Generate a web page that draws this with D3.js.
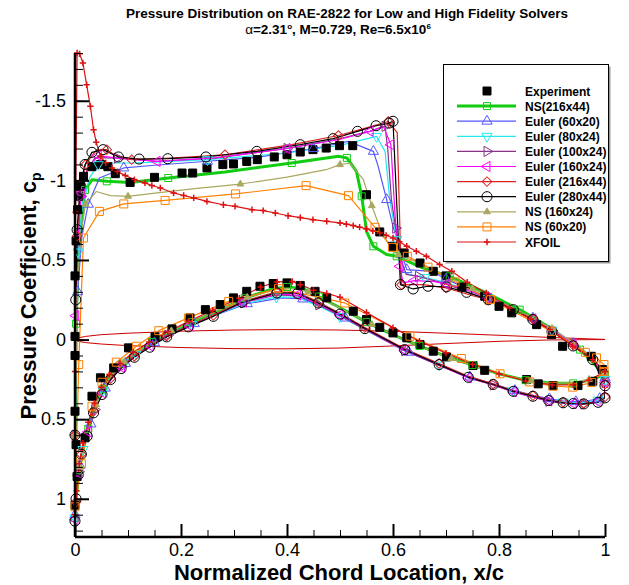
<!DOCTYPE html>
<html>
<head>
<meta charset="utf-8">
<script src="https://cdn.jsdelivr.net/npm/d3@7"></script>
<style>
  body { margin: 0; background: #fff; }
  svg { display: block; font-family: "Liberation Sans", Arial, sans-serif; }
</style>
</head>
<body>
<svg id="chart" width="629" height="585"></svg>
<script>
// tick labels
const xTicks = [0, 0.2, 0.4, 0.6, 0.8, 1];
const yTicks = [-1.5, -1, -0.5, 0, 0.5, 1];

// experiment (upper, lower surface) [x/c, cp]
const expUpper = [[0.995,0.188],[0.974,0.105],[0.92,0.042],[0.899,-0.031],[0.871,-0.094],[0.824,-0.168],[0.8,-0.209],[0.773,-0.272],[0.73,-0.33],[0.7,-0.4],[0.676,-0.429],[0.651,-0.481],[0.621,-0.544],[0.599,-0.586],[0.575,-0.676],[0.55,-0.91],[0.524,-1.218],[0.499,-1.218],[0.474,-1.203],[0.449,-1.193],[0.425,-1.178],[0.4,-1.161],[0.376,-1.147],[0.344,-1.13],[0.324,-1.119],[0.299,-1.103],[0.279,-1.099],[0.249,-1.078],[0.222,-1.046],[0.202,-1.046],[0.15,-1.019],[0.104,-0.987],[0.076,-1.042],[0.062,-1.086],[0.048,-1.099],[0.032,-1.086],[0.016,-1.025],[0.01,-0.962],[0.007,-0.9],[0.005,-0.816],[0.002,-0.62],[0,-0.4],[0,-0.02]];
const expLower = [[0,0.1],[0,0.45],[0.002,0.66],[0.004,0.86],[0,1.04],[0.019,0.617],[0.032,0.356],[0.048,0.24],[0.073,0.178],[0.101,0.052],[0.151,-0.017],[0.183,-0.067],[0.217,-0.136],[0.246,-0.188],[0.274,-0.22],[0.299,-0.262],[0.324,-0.303],[0.349,-0.335],[0.374,-0.352],[0.4,-0.356],[0.425,-0.34],[0.453,-0.303],[0.475,-0.262],[0.525,-0.178],[0.55,-0.126],[0.575,-0.077],[0.6,-0.042],[0.626,-0.011],[0.651,0.031],[0.676,0.073],[0.701,0.109],[0.751,0.163],[0.773,0.193],[0.852,0.251],[0.874,0.278],[0.902,0.289],[0.949,0.289],[0.977,0.262]];

// solver results, loop: upper TE -> LE -> lower TE
const ns216 = [[1,0.22],[0.99,0.188],[0.953,0.063],[0.896,-0.075],[0.839,-0.188],[0.776,-0.293],[0.707,-0.397],[0.656,-0.45],[0.607,-0.523],[0.588,-0.534],[0.563,-0.586],[0.55,-0.68],[0.541,-0.9],[0.531,-1.057],[0.513,-1.141],[0.497,-1.151],[0.409,-1.109],[0.283,-1.053],[0.176,-1.015],[0.104,-0.987],[0.06,-0.994],[0.032,-1.004],[0.019,-0.94],[0.007,-0.565],[0.002,-0.1],[0,0.6],[0,1.12],
  [0.002,1],[0.008,0.82],[0.016,0.68],[0.025,0.56],[0.038,0.42],[0.053,0.31],[0.07,0.22],[0.09,0.15],[0.115,0.08],[0.145,0.015],[0.178,-0.045],[0.22,-0.11],[0.27,-0.18],[0.32,-0.26],[0.374,-0.32],[0.4,-0.33],[0.43,-0.32],[0.46,-0.27],[0.5,-0.2],[0.55,-0.11],[0.6,-0.03],[0.65,0.04],[0.7,0.105],[0.75,0.16],[0.8,0.215],[0.85,0.255],[0.9,0.275],[0.94,0.275],[0.97,0.255],[1,0.22]];
const eul60 = [[1,0.24],[0.977,0.11],[0.94,0.025],[0.9,-0.065],[0.864,-0.135],[0.827,-0.2],[0.78,-0.265],[0.74,-0.32],[0.7,-0.38],[0.673,-0.429],[0.626,-0.439],[0.6,-0.711],[0.588,-0.879],[0.572,-1.088],[0.563,-1.182],[0.516,-1.245],[0.45,-1.2],[0.349,-1.147],[0.25,-1.12],[0.15,-1.095],[0.092,-1.078],[0.046,-1.015],[0.025,-0.85],[0.013,-0.65],[0.005,-0.3],[0,0.6],[0,1.1],
  [0.003,0.95],[0.009,0.79],[0.018,0.66],[0.03,0.53],[0.042,0.41],[0.057,0.305],[0.075,0.22],[0.095,0.15],[0.12,0.085],[0.15,0.02],[0.185,-0.04],[0.225,-0.1],[0.27,-0.16],[0.325,-0.225],[0.39,-0.262],[0.43,-0.255],[0.47,-0.2],[0.51,-0.135],[0.56,-0.05],[0.63,0.08],[0.69,0.165],[0.745,0.235],[0.79,0.28],[0.83,0.32],[0.865,0.35],[0.895,0.372],[0.92,0.385],[0.945,0.39],[0.965,0.386],[0.99,0.37],[1,0.33]];
const eul80 = [[1,0.25],[0.977,0.11],[0.94,0.03],[0.9,-0.06],[0.864,-0.13],[0.827,-0.195],[0.78,-0.26],[0.74,-0.31],[0.7,-0.36],[0.66,-0.39],[0.63,-0.41],[0.613,-0.44],[0.607,-0.628],[0.594,-0.879],[0.585,-1.182],[0.569,-1.276],[0.5,-1.22],[0.4,-1.172],[0.25,-1.13],[0.12,-1.11],[0.067,-1.109],[0.044,-1.099],[0.028,-1.02],[0.014,-0.85],[0.006,-0.55],[0.002,-0.15],[0,0.6],[0,1.12],
  [0.002,0.98],[0.007,0.82],[0.015,0.69],[0.026,0.565],[0.038,0.43],[0.053,0.32],[0.07,0.23],[0.09,0.16],[0.115,0.09],[0.145,0.025],[0.178,-0.035],[0.22,-0.095],[0.265,-0.155],[0.32,-0.225],[0.38,-0.268],[0.42,-0.265],[0.46,-0.21],[0.5,-0.145],[0.55,-0.058],[0.622,0.072],[0.687,0.16],[0.742,0.235],[0.789,0.28],[0.827,0.322],[0.864,0.354],[0.894,0.38],[0.921,0.392],[0.94,0.396],[0.96,0.396],[0.987,0.38],[1,0.34]];
const eul100 = [[1,0.27],[0.977,0.12],[0.94,0.035],[0.9,-0.055],[0.864,-0.125],[0.827,-0.19],[0.78,-0.255],[0.74,-0.3],[0.7,-0.35],[0.648,-0.397],[0.625,-0.41],[0.615,-0.5],[0.605,-0.7],[0.597,-0.879],[0.59,-1.2],[0.585,-1.339],[0.557,-1.31],[0.497,-1.26],[0.4,-1.2],[0.263,-1.14],[0.155,-1.12],[0.08,-1.14],[0.038,-1.143],[0.022,-1.06],[0.011,-0.9],[0.005,-0.6],[0.0015,-0.15],[0,0.6],[0,1.13],
  [0.002,0.99],[0.007,0.83],[0.014,0.7],[0.025,0.575],[0.037,0.44],[0.052,0.33],[0.068,0.24],[0.088,0.17],[0.113,0.1],[0.142,0.035],[0.175,-0.028],[0.216,-0.09],[0.263,-0.155],[0.318,-0.232],[0.38,-0.28],[0.42,-0.275],[0.46,-0.218],[0.5,-0.15],[0.548,-0.062],[0.622,0.07],[0.687,0.162],[0.742,0.24],[0.789,0.285],[0.827,0.33],[0.864,0.362],[0.894,0.388],[0.921,0.4],[0.94,0.405],[0.96,0.405],[0.987,0.39],[1,0.36]];
const eul160 = [[1,0.27],[0.977,0.115],[0.94,0.03],[0.9,-0.06],[0.864,-0.13],[0.827,-0.195],[0.78,-0.26],[0.739,-0.314],[0.7,-0.35],[0.676,-0.366],[0.64,-0.37],[0.619,-0.356],[0.613,-0.46],[0.604,-0.774],[0.596,-1.224],[0.582,-1.339],[0.557,-1.308],[0.497,-1.255],[0.4,-1.2],[0.263,-1.141],[0.155,-1.119],[0.076,-1.141],[0.044,-1.155],[0.025,-1.08],[0.012,-0.92],[0.005,-0.6],[0.0015,-0.15],[0,0.6],[0,1.13],
  [0.002,1],[0.007,0.84],[0.014,0.7],[0.025,0.58],[0.037,0.44],[0.052,0.335],[0.068,0.245],[0.088,0.175],[0.113,0.105],[0.142,0.04],[0.175,-0.025],[0.216,-0.088],[0.263,-0.155],[0.318,-0.235],[0.38,-0.285],[0.42,-0.28],[0.46,-0.222],[0.5,-0.155],[0.548,-0.065],[0.622,0.068],[0.687,0.16],[0.742,0.24],[0.789,0.285],[0.827,0.328],[0.864,0.36],[0.894,0.385],[0.921,0.398],[0.94,0.402],[0.96,0.402],[0.987,0.39],[1,0.36]];
const eul216 = [[1,0.28],[0.977,0.12],[0.94,0.035],[0.9,-0.055],[0.864,-0.13],[0.827,-0.19],[0.78,-0.25],[0.754,-0.272],[0.7,-0.325],[0.657,-0.345],[0.616,-0.345],[0.608,-1.3],[0.591,-1.37],[0.553,-1.333],[0.497,-1.282],[0.409,-1.224],[0.283,-1.161],[0.18,-1.14],[0.107,-1.13],[0.075,-1.16],[0.06,-1.193],[0.04,-1.19],[0.02,-1.1],[0.01,-0.95],[0.004,-0.65],[0.0015,-0.2],[0,0.6],[0,1.14],
  [0.002,1.02],[0.006,0.86],[0.012,0.72],[0.022,0.6],[0.035,0.45],[0.05,0.34],[0.067,0.245],[0.087,0.175],[0.112,0.105],[0.14,0.042],[0.173,-0.022],[0.214,-0.085],[0.261,-0.152],[0.315,-0.238],[0.38,-0.3],[0.42,-0.295],[0.46,-0.235],[0.5,-0.165],[0.547,-0.075],[0.622,0.058],[0.687,0.15],[0.742,0.23],[0.789,0.278],[0.827,0.32],[0.864,0.352],[0.894,0.378],[0.921,0.394],[0.94,0.4],[0.96,0.402],[0.987,0.39],[1,0.36]];
const eul280 = [[1,0.29],[0.977,0.126],[0.94,0.04],[0.9,-0.05],[0.864,-0.126],[0.827,-0.188],[0.78,-0.25],[0.739,-0.297],[0.701,-0.331],[0.666,-0.335],[0.638,-0.318],[0.614,-0.345],[0.6,-1.371],[0.593,-1.36],[0.568,-1.343],[0.533,-1.308],[0.487,-1.262],[0.425,-1.224],[0.343,-1.182],[0.247,-1.147],[0.175,-1.136],[0.121,-1.134],[0.082,-1.147],[0.053,-1.193],[0.032,-1.176],[0.019,-1.1],[0.01,-0.97],[0.004,-0.69],[0.0015,-0.25],[0,0.6],[0,1.14],
  [0.002,1],[0.006,0.85],[0.012,0.72],[0.023,0.606],[0.035,0.46],[0.051,0.345],[0.067,0.251],[0.087,0.182],[0.112,0.111],[0.141,0.048],[0.173,-0.017],[0.214,-0.08],[0.261,-0.146],[0.315,-0.234],[0.381,-0.293],[0.42,-0.29],[0.459,-0.23],[0.5,-0.16],[0.547,-0.069],[0.622,0.063],[0.687,0.157],[0.742,0.237],[0.789,0.282],[0.827,0.325],[0.864,0.356],[0.894,0.383],[0.921,0.397],[0.94,0.402],[0.96,0.404],[0.987,0.394],[1,0.366]];
const ns160 = [[1,0.21],[0.98,0.13],[0.95,0.04],[0.9,-0.07],[0.85,-0.16],[0.8,-0.24],[0.75,-0.32],[0.7,-0.4],[0.65,-0.48],[0.61,-0.534],[0.594,-0.586],[0.579,-0.67],[0.56,-0.841],[0.544,-1.004],[0.519,-1.109],[0.5,-1.099],[0.474,-1.067],[0.4,-1.02],[0.312,-0.977],[0.23,-0.95],[0.155,-0.921],[0.1,-0.9],[0.067,-0.904],[0.04,-0.93],[0.02,-0.85],[0.01,-0.65],[0.004,-0.3],[0,0.6],[0,1.1],
  [0.003,0.97],[0.009,0.8],[0.017,0.67],[0.027,0.55],[0.04,0.41],[0.055,0.3],[0.072,0.21],[0.093,0.14],[0.118,0.07],[0.148,0.005],[0.182,-0.055],[0.225,-0.12],[0.275,-0.19],[0.325,-0.265],[0.38,-0.315],[0.41,-0.32],[0.44,-0.3],[0.47,-0.25],[0.51,-0.18],[0.56,-0.095],[0.61,-0.015],[0.66,0.055],[0.71,0.12],[0.76,0.175],[0.81,0.225],[0.86,0.26],[0.9,0.275],[0.94,0.27],[0.97,0.25],[1,0.21]];
const ns60 = [[0.998,0.157],[0.984,0.115],[0.963,0.08],[0.899,-0.052],[0.784,-0.251],[0.717,-0.362],[0.666,-0.455],[0.627,-0.523],[0.599,-0.579],[0.566,-0.705],[0.516,-0.904],[0.436,-0.967],[0.303,-0.915],[0.17,-0.874],[0.092,-0.852],[0.046,-0.805],[0.016,-0.638],[0.007,0.157],[0,1.05],
  [0.012,0.78],[0.032,0.419],[0.051,0.268],[0.078,0.142],[0.116,0.042],[0.158,-0.056],[0.214,-0.136],[0.29,-0.24],[0.384,-0.32],[0.509,-0.23],[0.632,-0.021],[0.729,0.119],[0.802,0.215],[0.858,0.266],[0.902,0.293],[0.939,0.299],[0.975,0.27],[0.998,0.2]];
const xfoil = [[1,0.2],[0.977,0.126],[0.939,0.042],[0.896,-0.063],[0.86,-0.13],[0.82,-0.2],[0.776,-0.293],[0.74,-0.36],[0.711,-0.429],[0.688,-0.471],[0.663,-0.523],[0.644,-0.555],[0.626,-0.586],[0.612,-0.615],[0.6,-0.638],[0.587,-0.655],[0.575,-0.67],[0.562,-0.683],[0.55,-0.695],[0.537,-0.706],[0.525,-0.716],[0.512,-0.725],[0.5,-0.733],[0.475,-0.743],[0.449,-0.753],[0.425,-0.766],[0.402,-0.778],[0.378,-0.795],[0.355,-0.81],[0.334,-0.816],[0.302,-0.837],[0.28,-0.847],[0.249,-0.868],[0.224,-0.89],[0.205,-0.905],[0.186,-0.921],[0.161,-0.952],[0.145,-0.968],[0.132,-0.984],[0.112,-1.005],[0.095,-1.03],[0.08,-1.055],[0.07,-1.078],[0.058,-1.11],[0.048,-1.151],[0.04,-1.24],[0.035,-1.318],[0.029,-1.465],[0.022,-1.6],[0.015,-1.737],[0.0087,-1.795],[0.004,-1.8],[0.001,-0.8],[0,0.2],[0,1.1],
  [0.003,0.95],[0.008,0.78],[0.015,0.65],[0.025,0.52],[0.037,0.4],[0.05,0.3],[0.065,0.22],[0.085,0.15],[0.11,0.08],[0.14,0.015],[0.175,-0.05],[0.215,-0.115],[0.26,-0.185],[0.31,-0.26],[0.35,-0.33],[0.381,-0.362],[0.41,-0.365],[0.425,-0.345],[0.45,-0.31],[0.475,-0.29],[0.5,-0.266],[0.55,-0.17],[0.6,-0.075],[0.65,0.01],[0.7,0.085],[0.75,0.155],[0.8,0.215],[0.85,0.26],[0.9,0.285],[0.94,0.285],[0.97,0.255],[1,0.2]];
// airfoil outline (y/c drawn as -cp)
const rae2822 = [[1,-0.001],[0.9,-0.013],[0.8,-0.027],[0.7,-0.04],[0.6,-0.052],[0.5,-0.06],[0.4,-0.063],[0.3,-0.06],[0.2,-0.053],[0.1,-0.04],[0.05,-0.031],[0.02,-0.02],[0.005,-0.01],[0,0],[0.005,0.01],[0.02,0.019],[0.05,0.028],[0.1,0.038],[0.2,0.05],[0.3,0.057],[0.4,0.058],[0.5,0.053],[0.6,0.04],[0.7,0.025],[0.8,0.011],[0.9,0.002],[1,0]];

const svg = d3.select('svg#chart'),
  margin = {left: 75, right: 24, top: 53, bottom: 48};
const width = 629 - margin.left - margin.right,
  height = 585 - margin.top - margin.bottom;

const x = d3.scaleLinear().domain([0, 1]).range([0, width]),
  y = d3.scaleLinear().domain([-1.8, 1.24]).range([0, height]);

const symbolPlus = {
  draw(ctx, size) {
    const r = Math.sqrt(size) / 2;
    ctx.moveTo(-r, 0); ctx.lineTo(r, 0);
    ctx.moveTo(0, -r); ctx.lineTo(0, r);
  }
};
const shapes = {
  square: {type: d3.symbolSquare, size: 64, rot: 0},
  sqSmall: {type: d3.symbolSquare, size: 49, rot: 0},
  triUp: {type: d3.symbolTriangle, size: 45, rot: 0},
  triDown: {type: d3.symbolTriangle, size: 45, rot: 180},
  triRight: {type: d3.symbolTriangle, size: 45, rot: 90},
  triLeft: {type: d3.symbolTriangle, size: 45, rot: -90},
  diamond: {type: d3.symbolSquare, size: 45, rot: 45},
  circle: {type: d3.symbolCircle, size: 80, rot: 0},
  triSmall: {type: d3.symbolTriangle, size: 20, rot: 0},
  plus: {type: symbolPlus, size: 40, rot: 0}
};

const series = [
  {name: 'Experiment', data: expUpper.concat(expLower), color: '#000', lw: 0, shape: 'square', fill: true, step: 1},
  {name: 'NS(216x44)', data: ns216, color: '#11cc11', lw: 3, shape: 'sqSmall', step: 2},
  {name: 'Euler (60x20)', data: eul60, color: '#5555ff', lw: 1.2, shape: 'triUp', step: 2},
  {name: 'Euler (80x24)', data: eul80, color: '#22e8f0', lw: 1.2, shape: 'triDown', step: 3},
  {name: 'Euler (100x24)', data: eul100, color: '#883388', lw: 1.2, shape: 'triRight', step: 3},
  {name: 'Euler (160x24)', data: eul160, color: '#ff00ff', lw: 1.2, shape: 'triLeft', step: 2},
  {name: 'Euler (216x44)', data: eul216, color: '#dd2222', lw: 1.2, shape: 'diamond', step: 2},
  {name: 'Euler (280x44)', data: eul280, color: '#000', lw: 1.2, shape: 'circle', step: 1},
  {name: 'NS (160x24)', data: ns160, color: '#a8a860', lw: 1.2, shape: 'triSmall', fill: true, step: 3},
  {name: 'NS (60x20)', data: ns60, color: '#ff8000', lw: 1.2, shape: 'square', step: 1},
  {name: 'XFOIL', data: xfoil, color: '#dd1111', lw: 1.2, shape: 'plus', step: 1}
];

const g = svg.append('g')
  .attr('transform', `translate(${margin.left},${margin.top})`);

svg.append('defs').append('clipPath').attr('id', 'plotclip')
  .append('rect').attr('x', 0).attr('y', 0).attr('width', width).attr('height', height);

const plot = g.append('g').attr('clip-path', 'url(#plotclip)');
const line = d3.line().x(d => x(d[0])).y(d => y(d[1]));

function marker(shape) {
  const s = shapes[shape];
  return d3.symbol().type(s.type).size(s.size)();
}

// airfoil outline
plot.append('path').datum(rae2822)
  .attr('d', line).attr('fill', 'none').attr('stroke', '#cc0000').attr('stroke-width', 1);

series.forEach(s => {
  if (s.lw > 0) {
    plot.append('path')
      .datum(s.data.concat([s.data[0]]))
      .attr('d', line)
      .attr('fill', 'none')
      .attr('stroke', s.color)
      .attr('stroke-width', s.lw)
      .attr('stroke-linejoin', 'round');
  }
  const sh = shapes[s.shape];
  g.append('g').selectAll('path')
    .data(s.data.filter((d, i) => i % s.step === 0))
    .enter()
    .append('path')
    .attr('d', marker(s.shape))
    .attr('transform', d => `translate(${x(d[0])},${y(d[1])}) rotate(${sh.rot})`)
    .attr('fill', s.fill ? s.color : 'none')
    .attr('stroke', s.color)
    .attr('stroke-width', s.shape === 'plus' ? 1.5 : 1);
});

// axes
const font = '"Liberation Sans", Arial, sans-serif';
const yAxis = g.append('g')
  .call(d3.axisLeft(y).tickValues(yTicks).tickSize(-14).tickPadding(9).tickFormat(d => String(d)));
const yMinor = g.append('g')
  .call(d3.axisLeft(y).tickValues(d3.range(-18, 13).map(i => i / 10)).tickSize(-8).tickFormat(''));
const xAxis = g.append('g').attr('transform', `translate(0,${height})`)
  .call(d3.axisBottom(x).tickValues(xTicks).tickSize(-13).tickPadding(6).tickFormat(d => String(d)));
const xMinor = g.append('g').attr('transform', `translate(0,${height})`)
  .call(d3.axisBottom(x).tickValues(d3.range(0, 21).map(i => i / 20)).tickSize(-7).tickFormat(''));

[yAxis, yMinor, xAxis, xMinor].forEach(a => {
  a.select('.domain').remove();
  a.attr('font-family', font).attr('font-size', 18);
  a.selectAll('text').attr('fill', '#000');
  a.selectAll('line').attr('stroke', '#000');
});
yAxis.selectAll('line').attr('stroke-width', 2);
xAxis.selectAll('line').attr('stroke-width', 2);

g.append('line').attr('x1', 0).attr('x2', 0).attr('y1', 0).attr('y2', height)
  .attr('stroke', '#000').attr('stroke-width', 2.5);
g.append('line').attr('x1', 0).attr('x2', width).attr('y1', height).attr('y2', height)
  .attr('stroke', '#000').attr('stroke-width', 2.5);

// axis titles
svg.append('text')
  .attr('x', 339).attr('y', 580)
  .attr('text-anchor', 'middle')
  .attr('font-size', 22).attr('font-weight', 'bold')
  .text('Normalized Chord Location, x/c');

const yt = svg.append('text')
  .attr('transform', 'translate(36,296) rotate(-90)')
  .attr('text-anchor', 'middle')
  .attr('font-size', 22).attr('font-weight', 'bold');
yt.append('tspan').text('Pressure Coefficient, c');
yt.append('tspan').attr('font-size', 14).attr('dy', 5).text('p');

// title
svg.append('text')
  .attr('x', 347).attr('y', 18)
  .attr('text-anchor', 'middle')
  .attr('font-size', 13.5).attr('font-weight', 'bold')
  .text('Pressure Distribution on RAE-2822 for Low and High Fidelity Solvers');
const t2 = svg.append('text')
  .attr('x', 338).attr('y', 34)
  .attr('text-anchor', 'middle')
  .attr('font-size', 13.5).attr('font-weight', 'bold');
t2.append('tspan').attr('font-weight', 'normal').text('α');
t2.append('tspan').text('=2.31');
t2.append('tspan').attr('font-size', 8).attr('dy', -5).text('o');
t2.append('tspan').attr('dy', 5).text(', M=0.729, Re=6.5x10');
t2.append('tspan').attr('font-size', 8).attr('dy', -5).text('6');

// legend
const lg = svg.append('g').attr('transform', 'translate(443,64)');
lg.append('rect').attr('x', 2.5).attr('y', 2.5).attr('width', 165).attr('height', 197).attr('fill', '#999');
lg.append('rect').attr('x', 0.5).attr('y', 0.5).attr('width', 165).attr('height', 197)
  .attr('fill', '#fff').attr('stroke', '#000').attr('stroke-width', 1);

const rows = lg.selectAll('g.row')
  .data(series)
  .enter()
  .append('g')
  .classed('row', true)
  .attr('transform', (d, i) => `translate(0,${27 + i * 15.1})`);

rows.filter(d => d.lw > 0).append('line')
  .attr('x1', 14).attr('x2', 73).attr('y1', 0).attr('y2', 0)
  .attr('stroke', d => d.color).attr('stroke-width', d => d.lw);
rows.append('path')
  .attr('d', d => marker(d.shape))
  .attr('transform', d => `translate(44,0) rotate(${shapes[d.shape].rot})`)
  .attr('fill', d => d.fill ? d.color : 'none')
  .attr('stroke', d => d.color)
  .attr('stroke-width', d => d.shape === 'plus' ? 1.5 : 1);
rows.append('text')
  .attr('x', 82).attr('y', 4.5)
  .attr('font-size', 12).attr('font-weight', 'bold')
  .text(d => d.name);
</script>
</body>
</html>
